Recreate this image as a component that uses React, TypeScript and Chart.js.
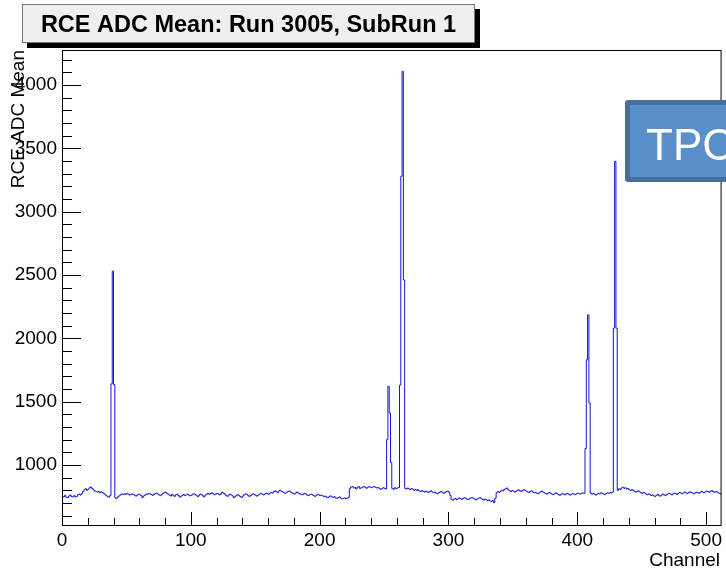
import React, { useEffect, useRef } from 'react';
import { Chart, registerables } from 'chart.js';
Chart.register(...registerables);

// ---- data ----
const adcMean: number[] = [
  752, 748, 760, 745, 742, 755, 763, 750, 748, 758, 747, 752, 765, 770, 762, 774,
  790, 805, 812, 800, 808, 820, 826, 815, 804, 795, 790, 786, 792, 780, 788, 782,
  776, 768, 758, 750, 746, 758, 1640, 2530, 1635, 740, 736, 748, 756, 764, 770, 766,
  772, 768, 775, 770, 762, 766, 772, 768, 760, 754, 762, 770, 765, 758, 742, 755,
  762, 770, 768, 775, 772, 766, 760, 768, 774, 778, 770, 764, 758, 766, 775, 782,
  785, 776, 770, 762, 755, 768, 760, 752, 765, 770, 758, 746, 752, 760, 766, 758,
  764, 770, 762, 756, 760, 768, 772, 766, 758, 750, 760, 770, 764, 756, 748, 762,
  770, 776, 768, 774, 780, 772, 765, 770, 776, 770, 764, 772, 785, 778, 770, 760,
  752, 762, 770, 764, 756, 742, 750, 760, 766, 758, 750, 744, 755, 765, 772, 768,
  760, 752, 758, 766, 772, 766, 760, 754, 762, 770, 776, 770, 764, 770, 778, 774,
  768, 776, 784, 778, 790, 796, 788, 782, 795, 800, 792, 786, 780, 776, 784, 790,
  795, 788, 780, 776, 770, 778, 786, 780, 772, 768, 764, 770, 776, 770, 762, 758,
  766, 770, 764, 758, 752, 760, 768, 764, 758, 762, 756, 750, 754, 746, 742, 750,
  756, 748, 744, 750, 740, 736, 742, 748, 738, 732, 736, 740, 734, 738, 745, 812,
  826, 830, 818, 822, 810, 824, 828, 815, 820, 826, 830, 822, 816, 824, 828, 825,
  820, 826, 830, 824, 818, 822, 815, 808, 812, 820, 816, 810, 1200, 1620, 1410, 1020,
  815, 808, 820, 812, 818, 822, 1630, 3280, 4107, 2460, 815, 810, 818, 812, 806, 814,
  808, 800, 806, 798, 804, 796, 790, 798, 792, 786, 794, 788, 782, 790, 796, 788,
  780, 786, 778, 772, 780, 786, 790, 782, 776, 784, 790, 794, 786, 760, 728, 722,
  730, 736, 726, 732, 740, 734, 728, 736, 742, 738, 730, 726, 734, 740, 744, 736,
  730, 724, 732, 738, 742, 736, 728, 722, 730, 726, 718, 724, 716, 712, 720, 702,
  738, 780, 790, 784, 792, 800, 795, 808, 812, 818, 804, 796, 790, 798, 794, 786,
  792, 798, 804, 796, 790, 798, 806, 800, 794, 788, 782, 790, 796, 788, 780, 784,
  778, 772, 780, 788, 794, 786, 780, 774, 770, 778, 784, 776, 770, 766, 774, 780,
  772, 766, 760, 768, 774, 770, 764, 772, 776, 770, 762, 768, 774, 770, 766, 772,
  778, 774, 770, 776, 780, 776, 1130, 1830, 2185, 1490, 778, 770, 776, 768, 762, 770,
  776, 772, 780, 776, 770, 766, 774, 780, 776, 782, 778, 786, 2080, 3396, 2080, 800,
  812, 806, 818, 824, 816, 820, 810, 814, 804, 798, 806, 800, 792, 786, 790, 796,
  788, 782, 776, 784, 778, 770, 764, 772, 766, 758, 764, 756, 752, 760, 768, 758,
  754, 762, 770, 764, 758, 766, 772, 776, 770, 764, 772, 778, 774, 768, 776, 782,
  778, 772, 780, 786, 780, 774, 782, 788, 784, 778, 772, 780, 786, 782, 776, 784,
  790, 786, 780, 788, 794, 790, 784, 792, 798, 790, 784, 792, 786, 780, 776, 770,
];
const xTicks: number[] = [0, 100, 200, 300, 400, 500];
const yTicks: number[] = [1000, 1500, 2000, 2500, 3000, 3500, 4000];
const xRange: number[] = [0, 512];
const yRange: number[] = [526, 4276];
const chartTitle = 'RCE ADC Mean: Run 3005, SubRun 1';
const xTitle = 'Channel';
const yTitle = 'RCE ADC Mean';
const overlayLabel = 'TPC';

const FONT = '"Liberation Sans", Arial, Helvetica, sans-serif';

export default function App() {
  const ref = useRef<HTMLCanvasElement | null>(null);
  useEffect(() => {
    document.body.style.margin = '0';
    const canvas = ref.current;
    if (!canvas) return;
    const points = adcMean.map((v, i) => ({ x: i, y: v }));
    points.push({ x: adcMean.length, y: adcMean[adcMean.length - 1] });

    const deco = {
      id: 'rootDeco',
      afterDraw(chart: any) {
        const ctx = chart.ctx as CanvasRenderingContext2D;
        const a = chart.chartArea;
        const xs = chart.scales.x;
        const ys = chart.scales.y;
        ctx.save();
        // frame
        ctx.strokeStyle = '#000';
        ctx.lineWidth = 1;
        ctx.strokeRect(a.left + 0.5, a.top + 0.5, a.right - a.left - 1, a.bottom - a.top);
        // y ticks
        ctx.beginPath();
        for (let v = 100; v <= yRange[1]; v += 100) {
          if (v < yRange[0]) continue;
          const py = Math.round(ys.getPixelForValue(v)) + 0.5;
          const len = v % 500 === 0 ? 19 : 10;
          ctx.moveTo(a.left, py);
          ctx.lineTo(a.left + len, py);
        }
        // x ticks
        for (let v = 0; v <= xRange[1]; v += 20) {
          const px = Math.round(xs.getPixelForValue(v)) + 0.5;
          const len = v % 100 === 0 ? 13 : 7;
          ctx.moveTo(px, a.bottom);
          ctx.lineTo(px, a.bottom - len);
        }
        ctx.stroke();

        // axis titles
        ctx.fillStyle = '#000';
        ctx.font = `19px ${FONT}`;
        ctx.textAlign = 'right';
        ctx.textBaseline = 'alphabetic';
        ctx.fillText(xTitle, 720, 566);
        ctx.save();
        ctx.translate(24, 50);
        ctx.rotate(-Math.PI / 2);
        ctx.textAlign = 'right';
        ctx.fillText(yTitle, 0, 0);
        ctx.restore();

        // title box with shadow
        ctx.fillStyle = '#000';
        ctx.fillRect(27, 9, 453, 39);
        ctx.fillStyle = '#efefef';
        ctx.fillRect(22, 4, 453, 39);
        ctx.strokeStyle = '#777';
        ctx.strokeRect(22.5, 4.5, 452, 38);
        ctx.fillStyle = '#000';
        ctx.font = `bold 23.5px ${FONT}`;
        ctx.textAlign = 'center';
        ctx.fillText(chartTitle, 248.5, 31.5);

        // TPC overlay box
        const bx = 625, by = 100, bw = 130, bh = 82;
        ctx.fillStyle = '#46709c';
        ctx.beginPath();
        (ctx as any).roundRect(bx, by, bw, bh, 3);
        ctx.fill();
        ctx.fillStyle = '#5b8fca';
        ctx.fillRect(bx + 5, by + 5, bw - 10, bh - 10);
        ctx.fillStyle = '#ffffff';
        ctx.font = `44px ${FONT}`;
        ctx.textAlign = 'left';
        ctx.fillText(overlayLabel, 646, 160);
        ctx.restore();
      },
    };

    const chart = new Chart(canvas, {
      type: 'line',
      data: {
        datasets: [
          {
            data: points,
            borderColor: '#1414d4',
            borderWidth: 1,
            pointRadius: 0,
            stepped: 'before',
            tension: 0,
            fill: false,
          },
        ],
      },
      options: {
        animation: false,
        responsive: false,
        devicePixelRatio: 1,
        layout: { padding: { left: 0, right: 2, top: 50, bottom: 0 } },
        plugins: { legend: { display: false }, tooltip: { enabled: false }, title: { display: false } },
        scales: {
          x: {
            type: 'linear',
            min: xRange[0],
            max: xRange[1],
            grid: { display: false, drawTicks: false },
            border: { display: false },
            afterBuildTicks: (s: any) => { s.ticks = xTicks.map((v) => ({ value: v })); },
            afterFit: (s: any) => { s.height = 46; },
            ticks: {
              color: '#000',
              font: { family: FONT, size: 19 },
              padding: 4,
              maxRotation: 0,
              autoSkip: false,
              callback: (v: any) => String(v),
            },
          },
          y: {
            type: 'linear',
            min: yRange[0],
            max: yRange[1],
            grid: { display: false, drawTicks: false },
            border: { display: false },
            afterBuildTicks: (s: any) => { s.ticks = yTicks.map((v) => ({ value: v })); },
            afterFit: (s: any) => { s.width = 62; },
            ticks: {
              color: '#000',
              font: { family: FONT, size: 19 },
              padding: 5,
              autoSkip: false,
              callback: (v: any) => String(v),
            },
          },
        },
      },
      plugins: [deco],
    } as any);
    return () => chart.destroy();
  }, []);
  return (
    <div>
      <canvas ref={ref} width={726} height={571} style={{ display: 'block', width: 726, height: 571 }} />
    </div>
  );
}
